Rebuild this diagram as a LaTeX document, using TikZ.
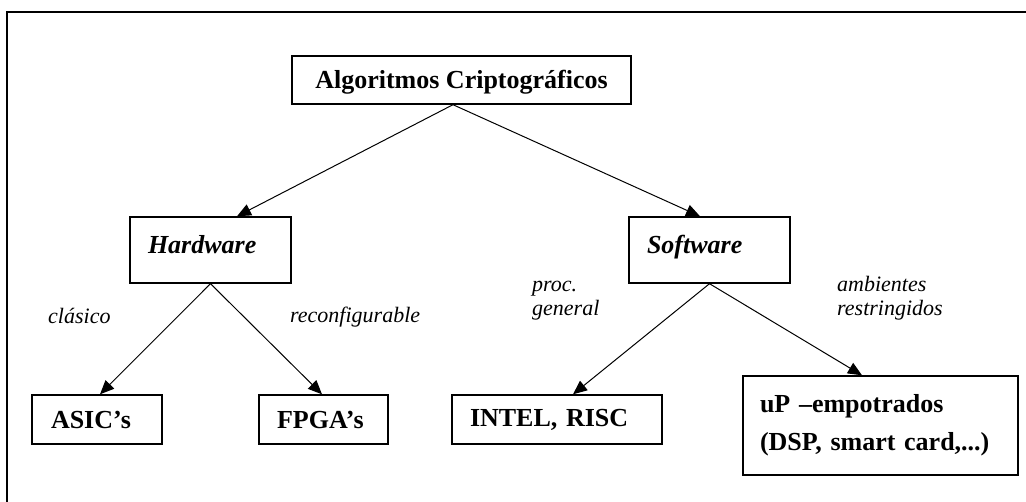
\documentclass[tikz,border=0pt]{standalone}
\usepackage{fontspec}
\setmainfont{Liberation Serif}
\usetikzlibrary{arrows.meta}

\tikzset{
  box/.style={draw, line width=1.4pt, rectangle, inner sep=0pt, align=left},
  title/.style={font=\fontsize{26}{30}\selectfont\bfseries},
  leaf/.style={font=\fontsize{26}{38}\selectfont\bfseries},
  branch/.style={font=\fontsize{26}{30}\selectfont\bfseries\itshape},
  note/.style={font=\fontsize{22}{25}\selectfont\itshape, inner sep=0pt, align=left},
  arr/.style={line width=1pt, -{Triangle[length=14pt,width=12pt]}}
}

\begin{document}
\begin{tikzpicture}[x=1pt, y=-1pt]
  \useasboundingbox (0,0) rectangle (1026,502);

  % frame along the left and top edges
  \draw[line width=1.5pt] (7,502) -- (7,12) -- (1026,12);

  % root
  \node[box, title, minimum width=339pt, minimum height=48pt,
        text height=18pt, text depth=0pt] (top) at (461.5,80) {Algoritmos Criptográficos};

  % second level
  \node[box, branch, minimum width=161pt, minimum height=66pt,
        text width=125pt, text depth=12pt] (hw) at (210.5,250) {Hardware};
  \node[box, branch, minimum width=161pt, minimum height=66pt,
        text width=125pt, text depth=12pt] (sw) at (709.5,250) {Software};

  % leaves
  \node[box, leaf, minimum width=130pt, minimum height=49pt,
        text width=92pt] (asic) at (97,419.5) {ASIC’s};
  \node[box, leaf, minimum width=129pt, minimum height=49pt,
        text width=93pt] (fpga) at (323.5,419.5) {FPGA’s};
  \node[box, leaf, minimum width=210pt, minimum height=49pt,
        text width=174pt] (intel) at (557,419.5) {INTEL, RISC};
  \node[box, leaf, minimum width=275pt, minimum height=99pt,
        text width=241pt] (up) at (880.5,425.5) {uP –empotrados\\(DSP, smart card,...)};

  % edge labels
  \node[note, anchor=mid west] (lcla) at (48,321) {clásico};
  \node[note, anchor=mid west] (lrec) at (290,320) {reconfigurable};
  \node[note, anchor=north west] (lpro) at (532,281) {proc.\\[-1pt]general};
  \node[note, anchor=north west] (lamb) at (837,276) {ambientes\\[-1pt]restringidos};

  % connectors
  \draw[arr] ([xshift=-8.5pt]top.south) -- ([xshift=26.5pt]hw.north);
  \draw[arr] ([xshift=-8.5pt]top.south) -- ([xshift=-9.5pt]sw.north);
  \draw[arr] (hw.south) -- ([xshift=3pt]asic.north);
  \draw[arr] (hw.south) -- ([xshift=-1.5pt]fpga.north);
  \draw[arr] (sw.south) -- ([xshift=16pt]intel.north);
  \draw[arr] (sw.south) -- ([xshift=-18.5pt]up.north);
\end{tikzpicture}
\end{document}
